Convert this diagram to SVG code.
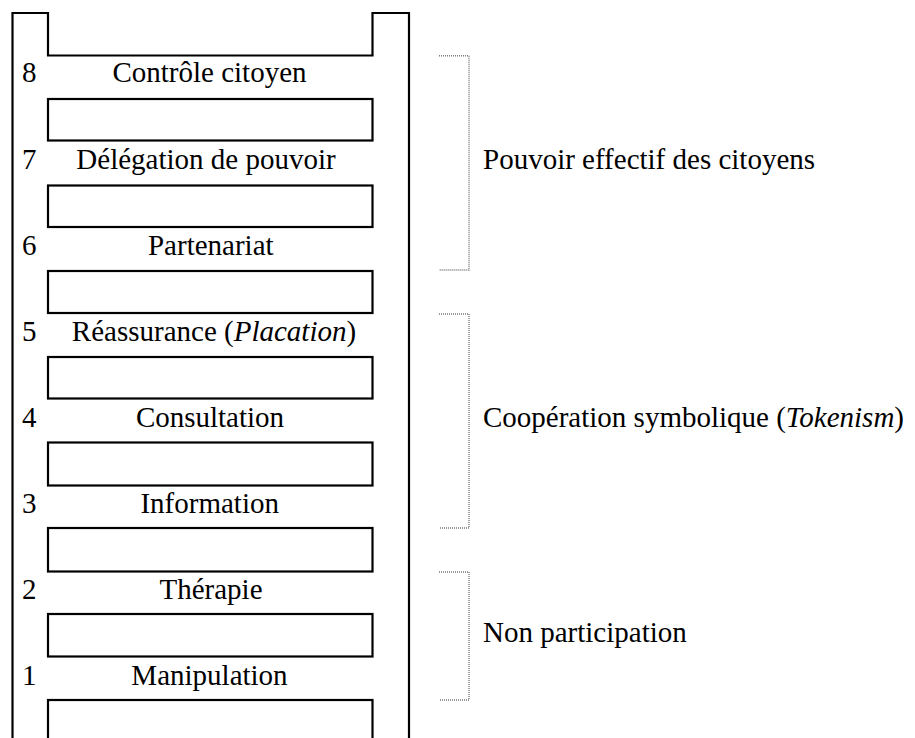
<svg xmlns="http://www.w3.org/2000/svg" width="915" height="738" viewBox="0 0 915 738">
<style>
.rail{fill:none;stroke:#000;stroke-width:2.2;stroke-linejoin:miter}
.rung{fill:#fff;stroke:#000;stroke-width:2.2}
.t{font-family:"Liberation Serif","Times New Roman",serif;font-size:29px;fill:#000}
.c{text-anchor:middle}
.br{fill:none;stroke:#7a7a7a;stroke-width:1.4;stroke-dasharray:1 1}
</style>
<rect width="915" height="738" fill="#fff"/>
<g id="ladder">
<path class="rail" d="M12.5,740 V13 H48 V55.5 H372.5 V13 H409 V740"/>
</g>
<g id="rungs">
<rect class="rung" x="48" y="99" width="324.5" height="41.5"/>
<rect class="rung" x="48" y="185.5" width="324.5" height="41.5"/>
<rect class="rung" x="48" y="271" width="324.5" height="42"/>
<rect class="rung" x="48" y="357" width="324.5" height="41.5"/>
<rect class="rung" x="48" y="442.5" width="324.5" height="43"/>
<rect class="rung" x="48" y="528" width="324.5" height="43.5"/>
<rect class="rung" x="48" y="614" width="324.5" height="42.5"/>
<rect class="rung" x="48" y="700" width="324.5" height="60"/>
</g>
<g id="step8"><text class="t" x="22" y="82">8</text><text class="t c" x="209.5" y="82">Contrôle citoyen</text></g>
<g id="step7"><text class="t" x="22" y="168.5">7</text><text class="t c" x="206" y="168.5">Délégation de pouvoir</text></g>
<g id="step6"><text class="t" x="22" y="254.5">6</text><text class="t c" x="210.8" y="254.5">Partenariat</text></g>
<g id="step5"><text class="t" x="22" y="341">5</text><text class="t c" x="214" y="341">Réassurance (<tspan font-style="italic">Placation</tspan>)</text></g>
<g id="step4"><text class="t" x="22" y="427">4</text><text class="t c" x="210" y="427">Consultation</text></g>
<g id="step3"><text class="t" x="22" y="513">3</text><text class="t c" x="209.7" y="513">Information</text></g>
<g id="step2"><text class="t" x="22" y="599">2</text><text class="t c" x="211" y="599">Thérapie</text></g>
<g id="step1"><text class="t" x="22" y="685">1</text><text class="t c" x="209.5" y="685">Manipulation</text></g>
<g id="connectors">
<path class="br" d="M439,55.7 H469 V270 H439"/>
<path class="br" d="M439,314 H469 V528 H439"/>
<path class="br" d="M439,572 H469 V700 H439"/>
</g>
<g id="group-power"><text class="t" x="483" y="169">Pouvoir effectif des citoyens</text></g>
<g id="group-tokenism"><text class="t" x="483" y="427">Coopération symbolique (<tspan font-style="italic">Tokenism</tspan>)</text></g>
<g id="group-nonpart"><text class="t" x="483" y="642">Non participation</text></g>
</svg>
